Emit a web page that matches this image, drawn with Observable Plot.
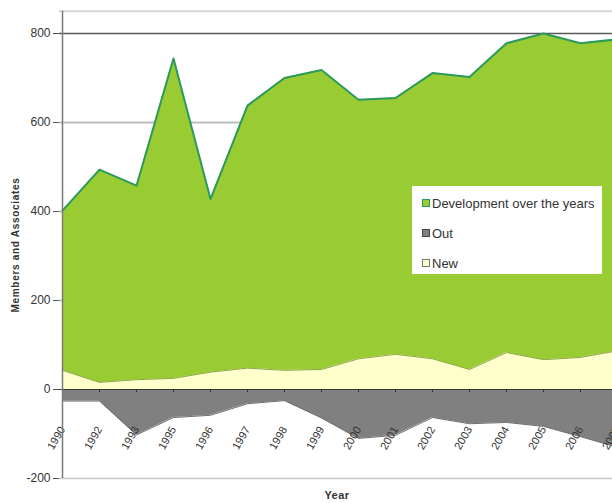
<!DOCTYPE html>
<html>
<head>
<meta charset="utf-8">
<script src="https://cdn.jsdelivr.net/npm/d3@7"></script>
<script src="https://cdn.jsdelivr.net/npm/@observablehq/plot@0.6"></script>
<style>
  html, body { margin: 0; padding: 0; background: #fff; }
  #wrap { position: relative; width: 612px; height: 503px; overflow: hidden; font-family: Arial, "Liberation Sans", sans-serif; }
  #wrap svg { position: absolute; left: 0; top: 0; }
  .ytitle { position: absolute; left: 15px; top: 245px; transform: translate(-50%, -50%) rotate(-90deg); font-weight: bold; font-size: 10px; letter-spacing: 0.7px; color: #333; white-space: nowrap; }
  .xtitle { position: absolute; left: 337px; top: 489px; transform: translateX(-50%); font-weight: bold; font-size: 11px; letter-spacing: 0.5px; color: #333; white-space: nowrap; line-height: 13px; }
  .legend { position: absolute; left: 412px; top: 186px; width: 190px; height: 88px; background: #fff; }
  .row { position: absolute; left: 10px; display: flex; align-items: center; height: 16px; font-size: 13px; color: #333; white-space: nowrap; }
  .sw { width: 6px; height: 6px; margin-right: 2px; border: 1px solid #444; }
</style>
</head>
<body>
<div id="wrap"></div>
<script>
const years = ["1990","1992","1993","1995","1996","1997","1998","1999","2000","2001","2002","2003","2004","2005","2006","2007"];
const development = [402, 494, 458, 744, 428, 638, 700, 718, 651, 655, 711, 702, 778, 800, 778, 787];
const newMembers = [43, 16, 22, 25, 39, 48, 43, 45, 69, 79, 69, 45, 83, 67, 72, 87];
const outMembers = [-26, -26, -102, -63, -58, -32, -25, -64, -110, -103, -63, -77, -74, -83, -106, -130];
const yTicks = [-200, 0, 200, 400, 600, 800];
const seriesNames = ["Development over the years", "Out", "New"];
const seriesFill = ["#99cc33", "#808080", "#ffffcc"];
const seriesStroke = ["#2a9a5c", "#444444", "#777777"];

const data = years.map((y, i) => ({year: y, dev: development[i], nw: newMembers[i], out: outMembers[i]}));

const chart = Plot.plot({
  width: 612,
  height: 503,
  marginLeft: 59,
  marginTop: 11,
  marginBottom: 25,
  marginRight: 0,
  style: {background: "#fff", fontFamily: "Arial, 'Liberation Sans', sans-serif"},
  x: {type: "point", domain: years, range: [59, 620], padding: 0, axis: null},
  y: {domain: [-200, 800], range: [478, 33], axis: null},
  marks: [
    Plot.ruleY([600, 400, 200], {stroke: "#bdbdbd", strokeWidth: 2}),
    Plot.ruleY([800], {stroke: "#5a5a5a", strokeWidth: 1.5}),
    Plot.ruleY([850], {stroke: "#d4d4d4", strokeWidth: 2}),
    Plot.ruleY([-200], {stroke: "#c8c8c8", strokeWidth: 1.5}),
    Plot.areaY(data, {x: "year", y1: 0, y2: "dev", fill: seriesFill[0], curve: "linear"}),
    Plot.line(data, {x: "year", y: "dev", stroke: seriesStroke[0], strokeWidth: 2, curve: "linear"}),
    Plot.areaY(data, {x: "year", y1: 0, y2: "nw", fill: seriesFill[2], curve: "linear"}),
    Plot.line(data, {x: "year", y: "nw", stroke: "#6f8f2a", strokeWidth: 0.8, curve: "linear"}),
    Plot.areaY(data, {x: "year", y1: 0, y2: "out", fill: seriesFill[1], curve: "linear"}),
    Plot.line(data, {x: "year", y: "out", stroke: "#4a4a4a", strokeWidth: 0.8, curve: "linear"}),
    Plot.ruleY([0], {stroke: "#3a3a3a", strokeWidth: 1.2}),
    Plot.ruleX(years.slice(1), {x: d => d, y1: 0, y2: -7, stroke: "#333", strokeWidth: 1}),
    Plot.text(years, {x: d => d, y: 0, dy: 38, rotate: -60, textAnchor: "end", fontSize: 11, fill: "#333"}),
    Plot.ruleX([years[0]], {y1: -200, y2: 850, stroke: "#7a7a7a", strokeWidth: 1.5}),
    Plot.axisY(yTicks, {anchor: "left", tickSize: 6, tickPadding: 3, fontSize: 12, color: "#333", stroke: "#555", tickFormat: d => String(d)})
  ]
});

const wrap = document.getElementById("wrap");
wrap.appendChild(chart);

const yt = document.createElement("div");
yt.className = "ytitle";
yt.textContent = "Members and Associates";
wrap.appendChild(yt);

const xt = document.createElement("div");
xt.className = "xtitle";
xt.textContent = "Year";
wrap.appendChild(xt);

const lg = document.createElement("div");
lg.className = "legend";
const rowTops = [9, 39, 69];
seriesNames.forEach((n, i) => {
  const r = document.createElement("div");
  r.className = "row";
  r.style.top = rowTops[i] + "px";
  const s = document.createElement("span");
  s.className = "sw";
  s.style.background = seriesFill[i];
  s.style.borderColor = seriesStroke[i];
  r.appendChild(s);
  const t = document.createElement("span");
  t.textContent = n;
  r.appendChild(t);
  lg.appendChild(r);
});
wrap.appendChild(lg);
</script>
</body>
</html>
